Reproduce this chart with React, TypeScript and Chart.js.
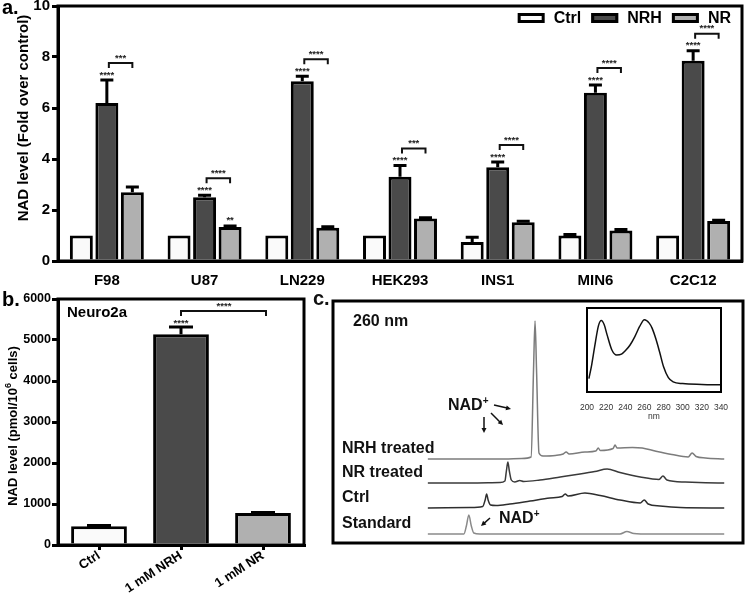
import React, { useEffect, useRef } from 'react';
import { Chart, registerables } from 'chart.js';

Chart.register(...registerables);

const FONT = '"Liberation Sans", Arial, Helvetica, sans-serif';

// ---------- Panel a: NAD fold over control ----------
const cellLines = ['F98', 'U87', 'LN229', 'HEK293', 'INS1', 'MIN6', 'C2C12'];
const ctrlFold = [1.0, 1.0, 1.0, 1.0, 0.75, 1.0, 1.0];
const ctrlErrTop = [1.0, 1.0, 1.0, 1.0, 0.93, 1.04, 1.0];
const nrhFold = [6.2, 2.5, 7.05, 3.3, 3.68, 6.6, 7.85];
const nrhErrTop = [7.1, 2.58, 7.25, 3.75, 3.88, 6.9, 8.25];
const nrFold = [2.7, 1.33, 1.3, 1.67, 1.52, 1.2, 1.57];
const nrErrTop = [2.9, 1.37, 1.34, 1.7, 1.56, 1.24, 1.6];
const nrhStars = ['****', '****', '****', '****', '****', '****', '****'];
const pairStars = ['***', '****', '****', '***', '****', '****', '****'];
const nrStars = ['', '**', '', '', '', '', ''];
const seriesNames = ['Ctrl', 'NRH', 'NR'];

// ---------- Panel b: Neuro2a ----------
const treatments = ['Ctrl', '1 mM NRH', '1 mM NR'];
const nadPmol = [460, 5140, 780];
const nadErrTop = [475, 5320, 795];
const nadStars = ['', '****', ''];
const nadPairStars = '****';

// ---------- Panel c: HPLC traces at 260 nm (time in min, signal in mAU above own baseline) ----------
const traceNames = ['NRH treated', 'NR treated', 'Ctrl', 'Standard'];
const traceOffsets = [84, 60, 35, 9];
const nrhTime = [0, 7.8, 9.5, 10.45, 10.7, 10.85, 11.0, 11.25, 11.65, 12.9, 13.7, 14.0, 14.3, 15.9, 17.0, 17.25, 17.45, 18.75, 18.95, 19.15, 20.7, 21.7, 23.0, 24.7, 26.35, 26.75, 27.15, 28.1, 30];
const nrhSignal = [0, 0, 0.5, 2, 90, 138, 90, 6, 3, 3.5, 5, 7, 5, 7, 8, 11, 8.5, 10.5, 14, 11, 11.5, 11, 8, 4.5, 2, 6, 2.5, 1, 0];
const nrTime = [0, 4.25, 7.3, 7.8, 7.95, 8.1, 8.25, 8.45, 8.8, 9.3, 9.7, 11.35, 13.4, 15.4, 16.9, 18.15, 19.45, 21.5, 23.4, 23.8, 24.2, 26.05, 28.1, 30];
const nrSignal = [0, 0, 0.5, 2, 12, 21, 12, 3, 1, 2.5, 1.5, 3, 6, 9, 11.5, 14, 10.5, 6, 3.5, 7, 3, 1, 0.3, 0];
const ctrlTime = [0, 4.25, 5.55, 5.8, 5.95, 6.1, 6.35, 6.9, 8.3, 10.35, 12.35, 13.6, 13.9, 14.2, 15.9, 17.45, 19.45, 21.5, 21.9, 22.3, 23.5, 25.55, 30];
const ctrlSignal = [0, 0.5, 1.5, 8, 14, 8, 3, 2.5, 4, 7, 10, 11.5, 14, 12, 15, 12.5, 8, 5, 8, 4, 2, 0.5, 0];
const stdTime = [0, 3.65, 3.9, 4.15, 4.4, 4.65, 5.25, 19.45, 20.15, 20.85, 22.5, 30];
const stdSignal = [0, 0, 8, 19, 8, 1, 0, 0, 2.5, 0.5, 0, 0];

// ---------- Inset: UV spectrum ----------
const wavelengths = [202, 205, 208, 212, 215, 218, 221, 226, 231, 236, 240, 245, 250, 255, 260, 265, 268, 272, 276, 280, 285, 290, 300, 320, 340];
const absorbance = [0.16, 0.33, 0.54, 0.79, 0.85, 0.8, 0.68, 0.5, 0.44, 0.45, 0.49, 0.56, 0.66, 0.78, 0.86, 0.82, 0.76, 0.63, 0.47, 0.3, 0.17, 0.12, 0.1, 0.09, 0.085];

const COL_CTRL = '#fafafa';
const COL_NRH = '#4a4a4a';
const COL_NR = '#b0b0b0';

type Part = { t: string; f: string; dy: number };

function drawRich(ctx: CanvasRenderingContext2D, parts: Part[], x: number, y: number, center: boolean) {
  let total = 0;
  parts.forEach((p) => { ctx.font = p.f; total += ctx.measureText(p.t).width; });
  let cx = center ? x - total / 2 : x;
  ctx.textAlign = 'left';
  parts.forEach((p) => { ctx.font = p.f; ctx.fillText(p.t, cx, y + p.dy); cx += ctx.measureText(p.t).width; });
}

function drawVertical(ctx: CanvasRenderingContext2D, parts: Part[], x: number, y: number) {
  ctx.save();
  ctx.translate(x, y);
  ctx.rotate(-Math.PI / 2);
  ctx.fillStyle = '#000';
  ctx.textBaseline = 'middle';
  drawRich(ctx, parts, 0, 0, true);
  ctx.restore();
}

function drawErrorBars(chart: any, dsIndex: number, tops: number[], half: number) {
  const meta = chart.getDatasetMeta(dsIndex);
  const ys = chart.scales.y;
  const ctx = chart.ctx as CanvasRenderingContext2D;
  ctx.save();
  ctx.strokeStyle = '#000';
  ctx.lineWidth = 3;
  meta.data.forEach((bar: any, i: number) => {
    const top = tops[i];
    const ye = ys.getPixelForValue(top);
    if (bar.y - ye < 0.5) return;
    ctx.beginPath();
    ctx.moveTo(bar.x, bar.y);
    ctx.lineTo(bar.x, ye);
    ctx.moveTo(bar.x - half, ye);
    ctx.lineTo(bar.x + half, ye);
    ctx.stroke();
  });
  ctx.restore();
}

function drawFrame(chart: any, lw: number) {
  const ctx = chart.ctx as CanvasRenderingContext2D;
  const a = chart.chartArea;
  ctx.save();
  ctx.strokeStyle = '#000';
  ctx.lineWidth = lw;
  ctx.strokeRect(a.left, a.top, a.right - a.left, a.bottom - a.top);
  ctx.restore();
}

function drawStars(ctx: CanvasRenderingContext2D, s: string, x: number, y: number) {
  if (!s) return;
  ctx.save();
  ctx.font = `bold 9.5px ${FONT}`;
  ctx.fillStyle = '#222';
  ctx.textAlign = 'center';
  ctx.textBaseline = 'middle';
  ctx.fillText(s, x, y + 2);
  ctx.restore();
}

function drawBracket(ctx: CanvasRenderingContext2D, x1: number, x2: number, y: number) {
  ctx.save();
  ctx.strokeStyle = '#111';
  ctx.lineWidth = 2;
  ctx.beginPath();
  ctx.moveTo(x1, y + 5);
  ctx.lineTo(x1, y);
  ctx.lineTo(x2, y);
  ctx.lineTo(x2, y + 5);
  ctx.stroke();
  ctx.restore();
}

function drawArrow(ctx: CanvasRenderingContext2D, x1: number, y1: number, x2: number, y2: number) {
  const ang = Math.atan2(y2 - y1, x2 - x1);
  const h = 5;
  ctx.save();
  ctx.strokeStyle = '#111';
  ctx.fillStyle = '#111';
  ctx.lineWidth = 1.5;
  ctx.beginPath();
  ctx.moveTo(x1, y1);
  ctx.lineTo(x2 - Math.cos(ang) * h * 0.8, y2 - Math.sin(ang) * h * 0.8);
  ctx.stroke();
  ctx.beginPath();
  ctx.moveTo(x2, y2);
  ctx.lineTo(x2 - h * Math.cos(ang) + 2.5 * Math.sin(ang), y2 - h * Math.sin(ang) - 2.5 * Math.cos(ang));
  ctx.lineTo(x2 - h * Math.cos(ang) - 2.5 * Math.sin(ang), y2 - h * Math.sin(ang) + 2.5 * Math.cos(ang));
  ctx.closePath();
  ctx.fill();
  ctx.restore();
}

function drawNad(ctx: CanvasRenderingContext2D, x: number, y: number) {
  ctx.save();
  ctx.fillStyle = '#111';
  ctx.textBaseline = 'middle';
  drawRich(ctx, [
    { t: 'NAD', f: `bold 16px ${FONT}`, dy: 0 },
    { t: '+', f: `bold 10px ${FONT}`, dy: -5 },
  ], x, y, false);
  ctx.restore();
}

const plainTick = (v: any) => String(v);

export default function App() {
  const refA = useRef<HTMLCanvasElement>(null);
  const refB = useRef<HTMLCanvasElement>(null);
  const refC = useRef<HTMLCanvasElement>(null);
  const refD = useRef<HTMLCanvasElement>(null);

  useEffect(() => {
    const charts: Chart[] = [];

    // ---------------- Panel a ----------------
    const pluginA = {
      id: 'annA',
      afterDraw(chart: any) {
        const ctx = chart.ctx as CanvasRenderingContext2D;
        const a = chart.chartArea;
        const ys = chart.scales.y;
        drawErrorBars(chart, 0, ctrlErrTop, 6.5);
        drawErrorBars(chart, 1, nrhErrTop, 6.5);
        drawErrorBars(chart, 2, nrErrTop, 6.5);
        const mN = chart.getDatasetMeta(1);
        const mR = chart.getDatasetMeta(2);
        cellLines.forEach((_, i) => {
          const xN = mN.data[i].x;
          const xR = mR.data[i].x;
          const eN = ys.getPixelForValue(nrhErrTop[i]);
          drawStars(ctx, nrhStars[i], xN, eN - 7);
          const by = eN - 17;
          drawBracket(ctx, xN + 2, xR, by);
          drawStars(ctx, pairStars[i], (xN + xR) / 2 + 1, by - 7);
          drawStars(ctx, nrStars[i], xR, ys.getPixelForValue(nrErrTop[i]) - 8);
        });
        drawFrame(chart, 3);
        // legend
        const ds = chart.data.datasets;
        ctx.save();
        ctx.font = `bold 16px ${FONT}`;
        const boxW = 27, boxH = 10, gapBT = 9, gapItem = 10;
        const widths = ds.map((d: any) => boxW + gapBT + ctx.measureText(d.label).width);
        const total = widths.reduce((s: number, w: number) => s + w, 0) + gapItem * (ds.length - 1);
        let x = a.right - 11 - total;
        const cy = a.top + 12;
        ds.forEach((d: any, i: number) => {
          ctx.fillStyle = d.backgroundColor;
          ctx.fillRect(x, cy - boxH / 2, boxW, boxH);
          ctx.lineWidth = 3;
          ctx.strokeStyle = '#000';
          ctx.strokeRect(x + 1.5, cy - boxH / 2 + 1.5, boxW - 3, boxH - 3);
          ctx.fillStyle = '#000';
          ctx.textBaseline = 'middle';
          ctx.textAlign = 'left';
          ctx.fillText(d.label, x + boxW + gapBT, cy + 1);
          x += widths[i] + gapItem;
        });
        // panel letter
        ctx.font = `bold 20px ${FONT}`;
        ctx.textBaseline = 'alphabetic';
        ctx.fillText('a.', 2, 14);
        ctx.restore();
        drawVertical(ctx, [{ t: 'NAD level (Fold over control)', f: `bold 15px ${FONT}`, dy: 0 }], 24, 118);
      },
    };

    charts.push(new Chart(refA.current!, {
      type: 'bar',
      data: {
        labels: cellLines,
        datasets: [
          { label: seriesNames[0], data: ctrlFold, backgroundColor: COL_CTRL, borderColor: '#000', borderWidth: 3 },
          { label: seriesNames[1], data: nrhFold, backgroundColor: COL_NRH, borderColor: '#000', borderWidth: 3 },
          { label: seriesNames[2], data: nrFold, backgroundColor: COL_NR, borderColor: '#000', borderWidth: 3 },
        ],
      },
      options: {
        responsive: false,
        animation: false,
        devicePixelRatio: 1,
        categoryPercentage: 0.783,
        barPercentage: 0.9,
        layout: { padding: { left: 0, right: 3, top: 6, bottom: 0 } },
        plugins: { legend: { display: false }, tooltip: { enabled: false } },
        scales: {
          x: {
            grid: { display: false },
            border: { display: true, width: 3, color: '#000' },
            ticks: { color: '#000', font: { family: FONT, size: 15, weight: 'bold' }, padding: 3 },
            afterFit: (s: any) => { s.height = 29; s.paddingLeft = 0; s.paddingRight = 0; },
          },
          y: {
            min: 0,
            max: 10,
            ticks: { stepSize: 2, color: '#000', font: { family: FONT, size: 15, weight: 'bold' }, padding: 2, callback: plainTick },
            grid: { drawOnChartArea: false, drawTicks: true, tickLength: 6, lineWidth: 3, color: '#000' },
            border: { display: true, width: 3, color: '#000' },
            afterFit: (s: any) => { s.width = 58; s.paddingTop = 0; s.paddingBottom = 0; },
          },
        },
      } as any,
      plugins: [pluginA],
    }));

    // ---------------- Panel b ----------------
    const pluginB = {
      id: 'annB',
      afterDraw(chart: any) {
        const ctx = chart.ctx as CanvasRenderingContext2D;
        const a = chart.chartArea;
        const ys = chart.scales.y;
        drawErrorBars(chart, 0, nadErrTop, 12);
        const m = chart.getDatasetMeta(0);
        const xN = m.data[1].x;
        const xR = m.data[2].x;
        const eN = ys.getPixelForValue(nadErrTop[1]);
        nadStars.forEach((s, i) => drawStars(ctx, s, m.data[i].x, ys.getPixelForValue(nadErrTop[i]) - 6));
        const by = eN - 16;
        drawBracket(ctx, xN, xR + 3, by);
        drawStars(ctx, nadPairStars, (xN + xR) / 2 + 2, by - 7);
        drawFrame(chart, 3);
        ctx.save();
        ctx.fillStyle = '#000';
        ctx.font = `bold 15px ${FONT}`;
        ctx.textAlign = 'left';
        ctx.textBaseline = 'middle';
        ctx.fillText('Neuro2a', a.left + 9, a.top + 14);
        ctx.font = `bold 20px ${FONT}`;
        ctx.textBaseline = 'alphabetic';
        ctx.fillText('b.', 2, 16);
        ctx.restore();
        drawVertical(ctx, [
          { t: 'NAD level (pmol/10', f: `bold 13px ${FONT}`, dy: 0 },
          { t: '6', f: `bold 9px ${FONT}`, dy: -4 },
          { t: ' cells)', f: `bold 13px ${FONT}`, dy: 0 },
        ], 13, 136);
      },
    };

    charts.push(new Chart(refB.current!, {
      type: 'bar',
      data: {
        labels: treatments,
        datasets: [{
          label: 'NAD',
          data: nadPmol,
          backgroundColor: [COL_CTRL, COL_NRH, COL_NR],
          borderColor: '#000',
          borderWidth: 3,
        }],
      },
      options: {
        responsive: false,
        animation: false,
        devicePixelRatio: 1,
        categoryPercentage: 0.68,
        barPercentage: 1,
        layout: { padding: { left: 0, right: 6, top: 9, bottom: 0 } },
        plugins: { legend: { display: false }, tooltip: { enabled: false } },
        scales: {
          x: {
            grid: { display: true, drawOnChartArea: false, drawTicks: true, tickLength: 5, lineWidth: 3, color: '#000', offset: false },
            border: { display: true, width: 3, color: '#000' },
            ticks: { color: '#000', font: { family: FONT, size: 13, weight: 'bold' }, padding: -2, minRotation: 33, maxRotation: 33 },
            afterFit: (s: any) => { s.height = 49; s.paddingLeft = 0; s.paddingRight = 0; },
          },
          y: {
            min: 0,
            max: 6000,
            ticks: { stepSize: 1000, color: '#000', font: { family: FONT, size: 12.5, weight: 'bold' }, padding: 1, callback: plainTick },
            grid: { drawOnChartArea: false, drawTicks: true, tickLength: 6, lineWidth: 3, color: '#000' },
            border: { display: true, width: 3, color: '#000' },
            afterFit: (s: any) => { s.width = 58; s.paddingTop = 0; s.paddingBottom = 0; },
          },
        },
      } as any,
      plugins: [pluginB],
    }));

    // ---------------- Panel c ----------------
    const traces = [
      { t: nrhTime, v: nrhSignal, color: '#7c7c7c' },
      { t: nrTime, v: nrSignal, color: '#3a3a3a' },
      { t: ctrlTime, v: ctrlSignal, color: '#2e2e2e' },
      { t: stdTime, v: stdSignal, color: '#8a8a8a' },
    ];
    const pluginC = {
      id: 'annC',
      afterDraw(chart: any) {
        const ctx = chart.ctx as CanvasRenderingContext2D;
        const a = chart.chartArea;
        const ys = chart.scales.y;
        drawFrame(chart, 3);
        ctx.save();
        ctx.fillStyle = '#111';
        ctx.font = `bold 16px ${FONT}`;
        ctx.textAlign = 'left';
        ctx.textBaseline = 'middle';
        traceNames.forEach((n, i) => ctx.fillText(n, a.left + 9, ys.getPixelForValue(traceOffsets[i]) - 10));
        ctx.fillText('260 nm', a.left + 20, a.top + 21);
        ctx.font = `bold 20px ${FONT}`;
        ctx.textBaseline = 'alphabetic';
        ctx.fillText('c.', 3, 15);
        ctx.restore();
        drawNad(ctx, 138, 116);
        drawArrow(ctx, 184, 115, 201, 119);
        drawArrow(ctx, 181, 123, 193, 135);
        drawArrow(ctx, 174, 127, 174, 143);
        drawNad(ctx, 189, 229);
        drawArrow(ctx, 180, 228, 171, 236);
      },
    };
    charts.push(new Chart(refC.current!, {
      type: 'line',
      data: {
        datasets: traces.map((tr, k) => ({
          label: traceNames[k],
          data: tr.t.map((t, i) => ({ x: t, y: tr.v[i] + traceOffsets[k] })),
          borderColor: tr.color,
          borderWidth: 1.5,
          pointRadius: 0,
          cubicInterpolationMode: 'monotone',
          fill: false,
        })),
      },
      options: {
        responsive: false,
        animation: false,
        devicePixelRatio: 1,
        layout: { padding: { left: 23, right: 2, top: 11, bottom: 51 } },
        plugins: { legend: { display: false }, tooltip: { enabled: false } },
        scales: {
          x: { type: 'linear', min: -9.6, max: 31.9, display: false },
          y: { type: 'linear', min: 0, max: 242, display: false },
        },
      } as any,
      plugins: [pluginC],
    }));

    // ---------------- Inset ----------------
    const pluginD = {
      id: 'annD',
      afterDraw(chart: any) { drawFrame(chart, 2); },
    };
    charts.push(new Chart(refD.current!, {
      type: 'line',
      data: {
        datasets: [{
          label: 'UV',
          data: wavelengths.map((w, i) => ({ x: w, y: absorbance[i] })),
          borderColor: '#111',
          borderWidth: 1.5,
          pointRadius: 0,
          cubicInterpolationMode: 'monotone',
          fill: false,
        }],
      },
      options: {
        responsive: false,
        animation: false,
        devicePixelRatio: 1,
        layout: { padding: { left: 27, right: 19, top: 10, bottom: 0 } },
        plugins: { legend: { display: false }, tooltip: { enabled: false } },
        scales: {
          x: {
            type: 'linear',
            min: 200,
            max: 340,
            grid: { display: false },
            border: { display: false },
            ticks: { stepSize: 20, autoSkip: false, color: '#333', font: { family: FONT, size: 8.5 }, padding: 3, maxRotation: 0, callback: plainTick },
            title: { display: true, text: 'nm', color: '#333', font: { family: FONT, size: 8.5 }, padding: 0 },
            afterFit: (s: any) => { s.height = 30; },
          },
          y: { type: 'linear', min: 0, max: 1, display: false },
        },
      } as any,
      plugins: [pluginD],
    }));

    return () => charts.forEach((c) => c.destroy());
  }, []);

  return (
    <div style={{ position: 'absolute', left: 0, top: 0, width: 745, height: 594, background: '#fff', overflow: 'hidden' }}>
      <canvas ref={refA} width={745} height={290} style={{ position: 'absolute', left: 0, top: 0 }} />
      <canvas ref={refB} width={310} height={304} style={{ position: 'absolute', left: 0, top: 290 }} />
      <canvas ref={refC} width={435} height={304} style={{ position: 'absolute', left: 310, top: 290 }} />
      <canvas ref={refD} width={180} height={124} style={{ position: 'absolute', left: 560, top: 298 }} />
    </div>
  );
}
